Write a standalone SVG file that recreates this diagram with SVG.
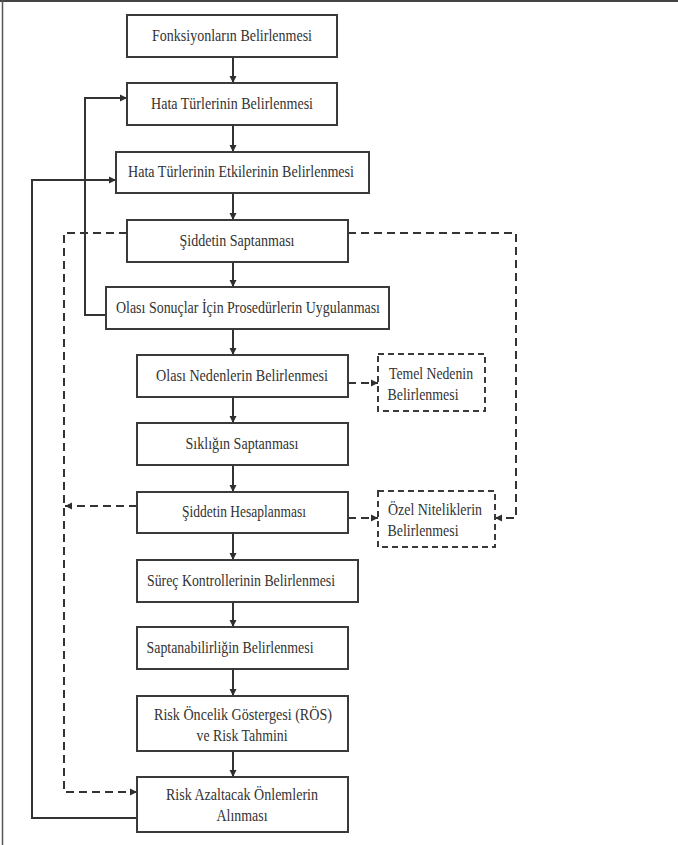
<svg xmlns="http://www.w3.org/2000/svg" width="678" height="845" viewBox="0 0 678 845">
<defs>
<marker id="ah" markerWidth="8" markerHeight="8" refX="7" refY="4" orient="auto" markerUnits="userSpaceOnUse">
<path d="M0,0.5 L7,4 L0,7.5 Z" fill="#2e2e2e"/>
</marker>
</defs>
<style>
.box{fill:#fff;stroke:#3a3a3a;stroke-width:2}
.dbox{fill:#fff;stroke:#3a3a3a;stroke-width:2;stroke-dasharray:6,4}
text{font-family:'Liberation Serif','DejaVu Serif','Times New Roman',serif;font-size:17.5px;fill:#333;text-anchor:middle}
.c{fill:none;stroke:#333;stroke-width:2}
.d{fill:none;stroke:#333;stroke-width:2;stroke-dasharray:8,5}
</style>
<rect x="0" y="0" width="678" height="845" fill="#fff"/>
<line x1="0" y1="1" x2="678" y2="1" stroke="#444" stroke-width="2"/>
<line x1="2.5" y1="0" x2="2.5" y2="845" stroke="#555" stroke-width="1.5"/>

<g id="connectors">
<line class="c" x1="233" y1="57" x2="233" y2="83" marker-end="url(#ah)"/>
<line class="c" x1="233" y1="125" x2="233" y2="152" marker-end="url(#ah)"/>
<line class="c" x1="233" y1="193" x2="233" y2="220" marker-end="url(#ah)"/>
<line class="c" x1="233" y1="262" x2="233" y2="287" marker-end="url(#ah)"/>
<line class="c" x1="233" y1="329" x2="233" y2="355" marker-end="url(#ah)"/>
<line class="c" x1="233" y1="397" x2="233" y2="423" marker-end="url(#ah)"/>
<line class="c" x1="233" y1="465" x2="233" y2="492" marker-end="url(#ah)"/>
<line class="c" x1="233" y1="533" x2="233" y2="560" marker-end="url(#ah)"/>
<line class="c" x1="233" y1="602" x2="233" y2="627" marker-end="url(#ah)"/>
<line class="c" x1="233" y1="669" x2="233" y2="696" marker-end="url(#ah)"/>
<line class="c" x1="233" y1="751" x2="233" y2="777" marker-end="url(#ah)"/>
<polyline class="c" points="106,315 85,315 85,98 127,98" marker-end="url(#ah)"/>
<polyline class="c" points="137,818 32,818 32,180 116,180" marker-end="url(#ah)"/>
<polyline class="d" points="127,233 64,233 64,792 137,792" marker-end="url(#ah)"/>
<polyline class="d" points="348,233 516,233 516,518 495,518" marker-end="url(#ah)"/>
<line class="d" x1="137" y1="506" x2="65" y2="506" marker-end="url(#ah)"/>
<line class="d" x1="348" y1="518" x2="378" y2="518" marker-end="url(#ah)"/>
<line class="d" x1="348" y1="383" x2="378" y2="383" marker-end="url(#ah)"/>
</g>

<g id="n1"><rect class="box" x="127" y="15" width="210" height="42"/><text x="232" y="41" textLength="160" lengthAdjust="spacingAndGlyphs">Fonksiyonların Belirlenmesi</text></g>
<g id="n2"><rect class="box" x="127" y="83" width="210" height="42"/><text x="232" y="109" textLength="162" lengthAdjust="spacingAndGlyphs">Hata Türlerinin Belirlenmesi</text></g>
<g id="n3"><rect class="box" x="116" y="152" width="253" height="41"/><text x="241" y="177" textLength="226" lengthAdjust="spacingAndGlyphs">Hata Türlerinin Etkilerinin Belirlenmesi</text></g>
<g id="n4"><rect class="box" x="127" y="220" width="221" height="42"/><text x="237" y="246" textLength="115" lengthAdjust="spacingAndGlyphs">Şiddetin Saptanması</text></g>
<g id="n5"><rect class="box" x="106" y="287" width="283" height="42"/><text x="248" y="313" textLength="264" lengthAdjust="spacingAndGlyphs">Olası Sonuçlar İçin Prosedürlerin Uygulanması</text></g>
<g id="n6"><rect class="box" x="137" y="355" width="211" height="42"/><text x="242" y="381" textLength="172" lengthAdjust="spacingAndGlyphs">Olası Nedenlerin Belirlenmesi</text></g>
<g id="n6b"><rect class="dbox" x="378" y="354" width="107" height="57"/><text x="431" y="379" textLength="84" lengthAdjust="spacingAndGlyphs">Temel Nedenin</text><text x="423" y="400" textLength="71" lengthAdjust="spacingAndGlyphs">Belirlenmesi</text></g>
<g id="n7"><rect class="box" x="137" y="423" width="211" height="42"/><text x="242" y="449" textLength="113" lengthAdjust="spacingAndGlyphs">Sıklığın Saptanması</text></g>
<g id="n8"><rect class="box" x="137" y="492" width="211" height="41"/><text x="244" y="517" textLength="124" lengthAdjust="spacingAndGlyphs">Şiddetin Hesaplanması</text></g>
<g id="n8b"><rect class="dbox" x="378" y="491" width="117" height="56"/><text x="435" y="515" textLength="94" lengthAdjust="spacingAndGlyphs">Özel Niteliklerin</text><text x="423" y="536" textLength="71" lengthAdjust="spacingAndGlyphs">Belirlenmesi</text></g>
<g id="n9"><rect class="box" x="137" y="560" width="221" height="42"/><text x="241" y="586" textLength="188" lengthAdjust="spacingAndGlyphs">Süreç Kontrollerinin Belirlenmesi</text></g>
<g id="n10"><rect class="box" x="137" y="627" width="211" height="42"/><text x="230" y="653" textLength="167" lengthAdjust="spacingAndGlyphs">Saptanabilirliğin Belirlenmesi</text></g>
<g id="n11"><rect class="box" x="137" y="696" width="211" height="55"/><text x="243" y="720" textLength="178" lengthAdjust="spacingAndGlyphs">Risk Öncelik Göstergesi (RÖS)</text><text x="242" y="741" textLength="91" lengthAdjust="spacingAndGlyphs">ve Risk Tahmini</text></g>
<g id="n12"><rect class="box" x="137" y="777" width="211" height="55"/><text x="242" y="800" textLength="152" lengthAdjust="spacingAndGlyphs">Risk Azaltacak Önlemlerin</text><text x="242" y="821" textLength="51" lengthAdjust="spacingAndGlyphs">Alınması</text></g>
</svg>
